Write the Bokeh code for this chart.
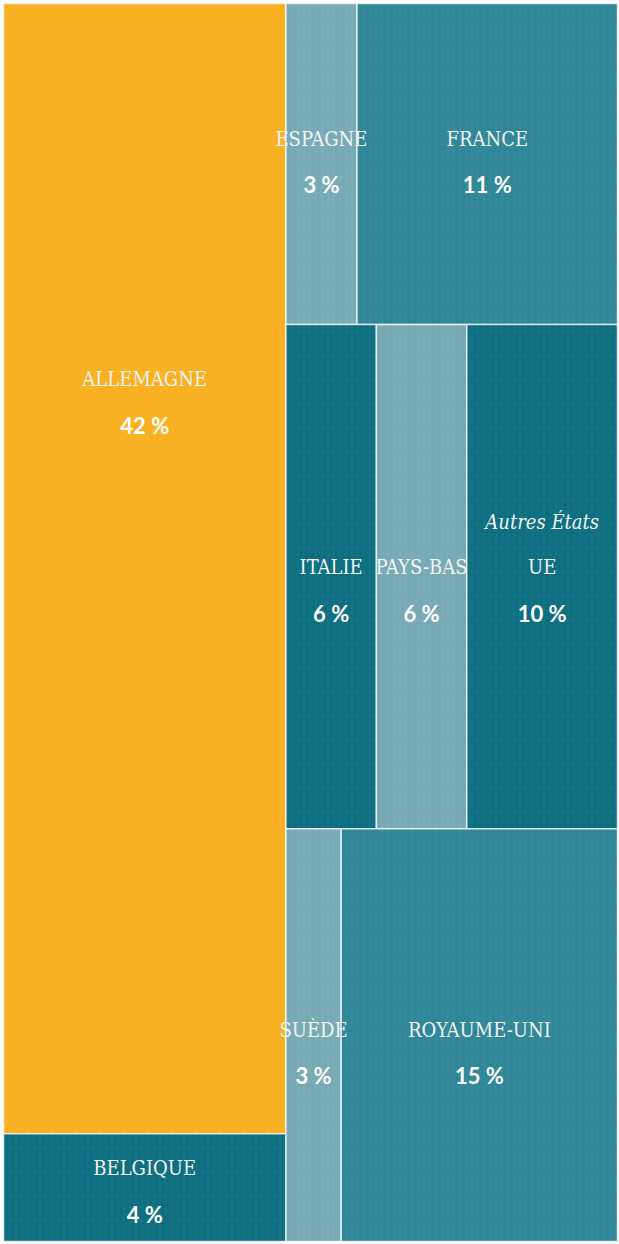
from bokeh.plotting import figure
from bokeh.models import Range1d, ColumnDataSource
from bokeh.core.properties import value
from bokeh.embed import file_html
from bokeh.resources import INLINE

# ---- data ----
countries = ["ALLEMAGNE", "BELGIQUE", "ESPAGNE", "FRANCE", "ITALIE",
             "PAYS-BAS", "Autres États|UE", "SUÈDE", "ROYAUME-UNI"]
shares = [42, 4, 3, 11, 6, 6, 10, 3, 15]
column = [0, 0, 1, 1, 1, 1, 1, 1, 1]
row = [0, 1, 0, 0, 1, 1, 1, 2, 2]
tone = ["yellow", "dark", "light", "mid", "dark", "light", "dark", "light", "mid"]

# ---- style ----
palette = {"yellow": "#F9B122", "dark": "#0E6F80", "mid": "#2F8797", "light": "#78AAB6"}
W, H = 619, 1244

# ---- treemap layout (columns -> rows -> cells) ----
total = sum(shares)
col_tot = {}
for c, s in zip(column, shares):
    col_tot[c] = col_tot.get(c, 0) + s
row_tot = {}
for c, r, s in zip(column, row, shares):
    row_tot[(c, r)] = row_tot.get((c, r), 0) + s

left_q, right_q, top_q, bottom_q = [], [], [], []
col_x = {}
x = 0.0
for c in sorted(col_tot):
    col_x[c] = (x, x + col_tot[c] / total * 100)
    x += col_tot[c] / total * 100
row_y = {}
for c in sorted(col_tot):
    y = 0.0
    for r in sorted({r for cc, r in row_tot if cc == c}):
        h = row_tot[(c, r)] / col_tot[c] * 100
        row_y[(c, r)] = (y, y + h)
        y += h
cursor = {}
for c, r, s in zip(column, row, shares):
    x0c, x1c = col_x[c]
    start = cursor.get((c, r), x0c)
    w = s / row_tot[(c, r)] * (x1c - x0c)
    left_q.append(start)
    right_q.append(start + w)
    cursor[(c, r)] = start + w
    top_q.append(row_y[(c, r)][0])
    bottom_q.append(row_y[(c, r)][1])

src = ColumnDataSource(dict(left=left_q, right=right_q, top=top_q, bottom=bottom_q,
                            color=[palette[t] for t in tone]))

# small white frame round the treemap
px_x = 614 / 100.0
px_y = 1238 / 100.0
p = figure(width=W, height=H, output_backend="svg", toolbar_location=None,
           x_range=Range1d(-3 / px_x, 100 + 2 / px_x),
           y_range=Range1d(100 + 3 / px_y, -3 / px_y),
           min_border=0, outline_line_color=None)
p.axis.visible = False
p.grid.visible = False
p.background_fill_color = "white"

p.quad(left="left", right="right", top="top", bottom="bottom", source=src,
       fill_color="color", line_color="white", line_alpha=0.75, line_width=1.5,
       hatch_pattern="vertical_dash", hatch_color="white", hatch_alpha=0.06,
       hatch_scale=6, hatch_weight=1)

# ---- labels ----
lab_x, lab_y, lab_t, lab_off, lab_style = [], [], [], [], []
val_x, val_y, val_t = [], [], []
for i, name in enumerate(countries):
    cx = (left_q[i] + right_q[i]) / 2
    h = bottom_q[i] - top_q[i]
    if name == "ALLEMAGNE":
        frac = 0.352
    elif column[i] == 1 and row[i] == 0:
        frac = 0.49
    elif column[i] == 1 and row[i] == 2:
        frac = 0.54
    else:
        frac = 0.525
    ay = top_q[i] + frac * h
    lines = name.split("|")
    n = len(lines)
    for k, ln in enumerate(lines):
        lab_x.append(cx)
        lab_y.append(ay)
        lab_t.append(ln)
        lab_off.append(-22 - 45 * (n - 1 - k))
        lab_style.append("italic" if (n > 1 and k == 0) else "normal")
    val_x.append(cx)
    val_y.append(ay)
    val_t.append(f"{shares[i]} %")

lsrc = ColumnDataSource(dict(x=lab_x, y=lab_y, t=lab_t, off=lab_off, st=lab_style))
p.text(x="x", y="y", text="t", y_offset="off", source=lsrc,
       text_font=value("DejaVu Serif Condensed"), text_font_size="20px",
       text_font_style="st", text_color="#F4F4F4",
       text_align="center", text_baseline="middle")

vsrc = ColumnDataSource(dict(x=val_x, y=val_y, t=val_t))
p.text(x="x", y="y", text="t", y_offset=24, source=vsrc,
       text_font=value("Lato"), text_font_size="22px", text_font_style="bold",
       text_color="white", text_align="center", text_baseline="middle")

open("out.html", "w").write(file_html(p, INLINE))
